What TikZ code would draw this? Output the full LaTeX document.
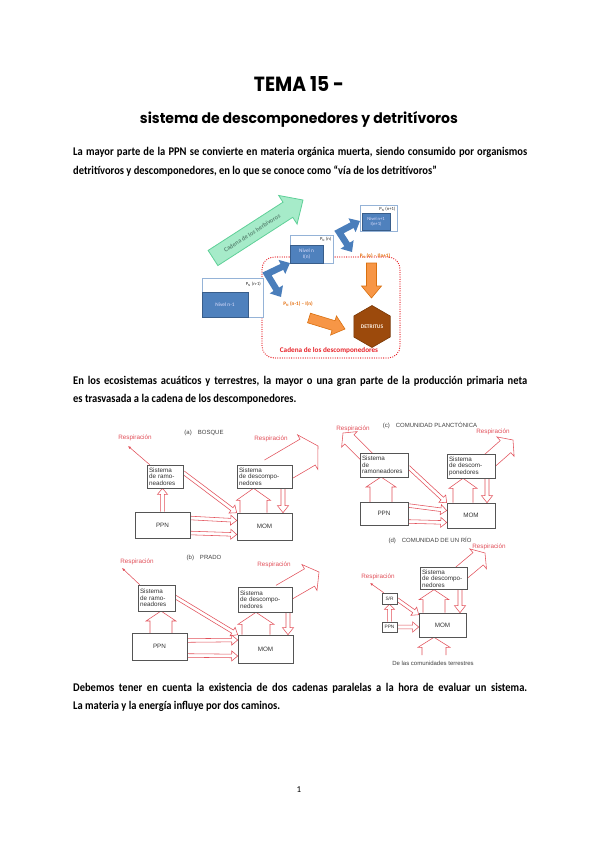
\documentclass[tikz,border=0pt]{standalone}
\usepackage{fontspec}
\usepackage{graphicx}
\setmainfont{Carlito}
\newfontfamily\titlefont{Poppins}
\newfontfamily\figfont{Liberation Sans}
\usetikzlibrary{calc,arrows.meta,backgrounds}
\definecolor{bluef}{HTML}{4F81BD}
\definecolor{blued}{HTML}{385D8A}
\definecolor{lightb}{HTML}{95B3D7}
\definecolor{bluea}{HTML}{4A7EBB}
\definecolor{greenf}{HTML}{A6EBC9}
\definecolor{greenb}{HTML}{5FD098}
\definecolor{greent}{HTML}{5E8C78}
\definecolor{orf}{HTML}{F79646}
\definecolor{orb}{HTML}{D9700F}
\definecolor{ort}{HTML}{E46C0A}
\definecolor{hexf}{HTML}{9C4A0C}
\definecolor{hexb}{HTML}{7A3806}
\definecolor{detred}{HTML}{E8232A}
\definecolor{rsp}{HTML}{E2505A}
\definecolor{boxg}{HTML}{555555}
\newcommand\openarr[6][]{%
  \coordinate (hb) at ($#3!#6!#2$);
  \draw[#1] ($#2!#4!90:#3$) -- ($(hb)!#4!90:#3$) -- ($(hb)!#5!90:#3$) -- #3 -- ($(hb)!#5!-90:#3$) -- ($(hb)!#4!-90:#3$) -- ($#2!#4!-90:#3$);}
\newcommand\fillarr[6][]{%
  \coordinate (hb) at ($#3!#6!#2$);
  \path[#1] ($#2!#4!90:#3$) -- ($(hb)!#4!90:#3$) -- ($(hb)!#5!90:#3$) -- #3 -- ($(hb)!#5!-90:#3$) -- ($(hb)!#4!-90:#3$) -- ($#2!#4!-90:#3$) -- cycle;}
\newcommand\bodyfs{\fontsize{10.5}{12}\selectfont\bfseries}
\newcommand\bline[1]{\scalebox{1}[1.12]{#1}}
\begin{document}
\begin{tikzpicture}[x=1pt,y=-1pt,
  fbx/.style={draw=boxg, fill=white, line width=0.6pt, inner sep=2pt, font=\figfont\fontsize{6.3}{6.6}\selectfont, align=left, text=black!80},
  fbc/.style={draw=boxg, fill=white, line width=0.6pt, inner sep=0pt, font=\figfont\fontsize{6.3}{6.6}\selectfont, text=black!80},
  rl/.style={font=\figfont\fontsize{6.3}{6.3}\selectfont, text=rsp, inner sep=0},
  ptl/.style={font=\figfont\fontsize{6}{6}\selectfont, text=black!75, inner sep=0},
  harr/.style={draw=rsp, line width=0.55pt, line join=miter},
  rthin/.style={draw=rsp, line width=0.55pt, -{Latex[length=3pt,width=2.6pt]}},
  bodyl/.style={anchor=base west, inner sep=0, font=\bodyfs},
  outb/.style={draw=lightb, fill=white, line width=0.8pt, inner sep=0},
  inb/.style={draw=blued, fill=bluef, line width=0.4pt, inner sep=0, text=white!88!blue, font=\fontsize{5.3}{5.8}\selectfont, align=center},
  pl/.style={font=\fontsize{4.6}{4.6}\selectfont, inner sep=0, text=black!85},
  ol/.style={font=\bfseries\fontsize{5.2}{5.2}\selectfont, text=ort, inner sep=0},
  barr/.style={draw=bluea, line width=6.5pt, line join=miter, arrows={Triangle[width=15pt,length=9pt]-Triangle[width=15pt,length=9pt]}}
]
\useasboundingbox (0,0) rectangle (599,848);
\begin{scope}[on background layer]
\fill[white] (0,0) rectangle (599,848);
\end{scope}

% ---------- titles and text ----------
\node (t1) at (299,84) {\resizebox{90pt}{15pt}{\titlefont\bfseries TEMA 15 -}};
\node (t2) at (299,119) {\resizebox{318pt}{12pt}{\titlefont\bfseries sistema de descomponedores y detritívoros}};

\node[bodyl] (p1a) at (73,155) {\bline{\makebox[454pt][s]{La mayor parte de la PPN se convierte en materia orgánica muerta, siendo consumido por organismos}}};
\node[bodyl] (p1b) at (73,174) {\bline{detritívoros y descomponedores, en lo que se conoce como “vía de los detritívoros”}};
\node[bodyl] (p2a) at (73,384) {\bline{\makebox[454pt][s]{En los ecosistemas acuáticos y terrestres, la mayor o una gran parte de la producción primaria neta}}};
\node[bodyl] (p2b) at (73,402) {\bline{es trasvasada a la cadena de los descomponedores.}};
\node[bodyl] (p3a) at (73,691) {\bline{\makebox[454pt][s]{Debemos tener en cuenta la existencia de dos cadenas paralelas a la hora de evaluar un sistema.}}};
\node[bodyl] (p3b) at (73,709) {\bline{La materia y la energía influye por dos caminos.}};
\node[font=\fontsize{9}{9}\selectfont, inner sep=0] (pg) at (299,790) {1};

% ---------- diagram 1 ----------
\node[draw=detred, line width=1.3pt, dash pattern=on 0pt off 2.3pt, line cap=round, rounded corners=12pt, minimum width=138pt, minimum height=101pt, inner sep=0] (dcad) at (331,307.5) {};

\coordinate (gT) at (213,258); \coordinate (gP) at (303,200);
\fillarr[draw=greenb, fill=greenf, line width=0.8pt]{(gT)}{(gP)}{9pt}{17pt}{18pt}
\node[rotate=32.8, font=\bfseries\fontsize{6.3}{6.3}\selectfont, text=greent, inner sep=0] (gtx) at (252,233) {Cadena de los herbívoros};

\node[outb, minimum width=61pt, minimum height=39pt] (o1) at (232.5,297.5) {};
\node[inb, minimum width=46pt, minimum height=25pt] (i1) at (225,304.5) {Nivel n-1};
\node[pl, anchor=east] (l1) at (261,284) {P\textsubscript{N} (n-1)};

\node[outb, minimum width=43pt, minimum height=28pt] (o2) at (311.5,249) {};
\node[inb, minimum width=33pt, minimum height=18pt] (i2) at (306.5,254) {Nivel n\\I(n)};
\node[pl, anchor=east] (l2) at (331.5,239.5) {P\textsubscript{N} (n)};

\node[outb, minimum width=37pt, minimum height=26pt] (o3) at (378.5,218) {};
\node[inb, minimum width=28pt, minimum height=17pt, font=\fontsize{4.6}{5.4}\selectfont] (i3) at (376,221.5) {Nivel n+1\\I(n+1)};
\node[pl, anchor=east] (l3) at (395.5,209) {P\textsubscript{N} (n+1)};

\coordinate (b1a) at (290,263); \coordinate (b1c) at (267,274); \coordinate (b1b) at (281,297);
\draw[barr] (b1a) -- (b1c) -- (b1b);
\coordinate (b2a) at (360,221); \coordinate (b2c) at (339,232); \coordinate (b2b) at (352,252);
\draw[barr] (b2a) -- (b2c) -- (b2b);

\node[ol] (ol1) at (375,256) {P\textsubscript{N} (n) – I(n+1)};
\node[ol] (ol2) at (298,304) {P\textsubscript{N} (n-1) – I(n)};

\coordinate (or1T) at (371.5,263); \coordinate (or1P) at (371.5,298);
\fillarr[draw=orb, fill=orf, line width=0.6pt]{(or1T)}{(or1P)}{5pt}{10pt}{12pt}
\coordinate (or2T) at (309,318); \coordinate (or2P) at (345,329);
\fillarr[draw=orb, fill=orf, line width=0.6pt]{(or2T)}{(or2P)}{5pt}{10pt}{12pt}

\coordinate (hx) at (372,326.5);
\filldraw[fill=hexf, draw=hexb, line width=0.6pt] ($(hx)+(0,-21)$) -- ($(hx)+(18.2,-10.5)$) -- ($(hx)+(18.2,10.5)$) -- ($(hx)+(0,21)$) -- ($(hx)+(-18.2,10.5)$) -- ($(hx)+(-18.2,-10.5)$) -- cycle;
\node[font=\bfseries\fontsize{5.5}{5.5}\selectfont, text=white!90!orange, inner sep=0] (det) at (hx) {DETRITUS};

\node[font=\bfseries\fontsize{7.2}{7.2}\selectfont, text=detred, inner sep=0] (cd) at (329,351) {Cadena de los descomponedores};

% ---------- figure 2 : panel (a) ----------
\node[ptl] (tA) at (204,433) {(a)\quad BOSQUE};
\node[rl] (rA1) at (135,438) {Respiración};
\node[rl] (rA2) at (271,439) {Respiración};
\node[fbx, text width=32pt, minimum height=23pt] (ramoA) at (165,476.5) {Sistema\\de ramo-\\neadores};
\node[fbx, text width=51pt, minimum height=23pt] (descA) at (264.5,476.5) {Sistema\\de descompo-\\nedores};
\node[fbc, minimum width=55pt, minimum height=26pt] (ppnA) at (162.5,525) {PPN};
\node[fbc, minimum width=55pt, minimum height=27pt] (momA) at (264.5,526.5) {MOM};
\begin{scope}[on background layer]
\coordinate (a0) at (128,446);
\draw[rthin] ($(ramoA.north west)+(3,0)$) -- (a0);
\coordinate (a1) at (ppnA.north |- ramoA.south);
\openarr[harr]{(ppnA.north)}{(a1)}{1.8pt}{5pt}{6pt}
\coordinate (a2) at ($(ramoA.east)+(0,-4)$);
\openarr[harr]{(a2)}{(momA.north west)}{1.8pt}{5pt}{6pt}
\coordinate (a3) at ($(ppnA.east)+(0,-7)$); \coordinate (a4) at ($(momA.west)+(0,-6)$);
\openarr[harr]{(a3)}{(a4)}{1.8pt}{5pt}{6pt}
\coordinate (a5) at ($(ppnA.east)+(0,8)$); \coordinate (a6) at ($(momA.west)+(0,8)$);
\openarr[harr]{(a5)}{(a6)}{1.8pt}{5pt}{6pt}
\coordinate (a7) at ($(momA.north)+(-11,0)$); \coordinate (a8) at ($(descA.south)+(-11,0)$);
\openarr[harr]{(a7)}{(a8)}{13.5pt}{17pt}{12pt}
\coordinate (a9) at ($(descA.south)+(18.5,0)$); \coordinate (a10) at ($(momA.north)+(18.5,0)$);
\openarr[harr]{(a9)}{(a10)}{2pt}{5.5pt}{7pt}
\coordinate (a11) at (272,473); \coordinate (a12) at (318,446);
\openarr[harr]{(a11)}{(a12)}{15pt}{20pt}{12pt}
\end{scope}

% ---------- panel (b) ----------
\node[ptl] (tB) at (204,558) {(b)\quad PRADO};
\node[rl] (rB1) at (137,562) {Respiración};
\node[rl] (rB2) at (274,565) {Respiración};
\node[fbx, text width=33pt, minimum height=26pt] (ramoB) at (156.5,598) {Sistema\\de ramo-\\neadores};
\node[fbx, text width=50pt, minimum height=25pt] (descB) at (265,599.5) {Sistema\\de descompo-\\nedores};
\node[fbc, minimum width=55pt, minimum height=27pt] (ppnB) at (159.5,646.5) {PPN};
\node[fbc, minimum width=55pt, minimum height=28pt] (momB) at (265.5,649) {MOM};
\begin{scope}[on background layer]
\coordinate (b0) at (122,568);
\draw[rthin] ($(ramoB.north west)+(2,0)$) -- (b0);
\coordinate (bb1) at (161,633); \coordinate (bb2) at (161,611);
\openarr[harr]{(bb1)}{(bb2)}{11pt}{15pt}{10pt}
\coordinate (bb3) at ($(ramoB.east)+(0,-1)$);
\openarr[harr]{(bb3)}{(momB.north west)}{1.8pt}{5pt}{6pt}
\coordinate (bb4) at ($(ppnB.east)+(0,-6)$); \coordinate (bb5) at ($(momB.west)+(0,-9)$);
\openarr[harr]{(bb4)}{(bb5)}{1.8pt}{5pt}{6pt}
\coordinate (bb6) at ($(ppnB.east)+(0,9)$); \coordinate (bb7) at ($(momB.west)+(0,7)$);
\openarr[harr]{(bb6)}{(bb7)}{1.8pt}{5pt}{6pt}
\coordinate (bb8) at ($(momB.north)+(-9.5,0)$); \coordinate (bb9) at ($(descB.south)+(-9,0)$);
\openarr[harr]{(bb8)}{(bb9)}{14pt}{18pt}{12pt}
\coordinate (bb10) at ($(descB.south)+(23,0)$); \coordinate (bb11) at ($(momB.north)+(22.5,0)$);
\openarr[harr]{(bb10)}{(bb11)}{2pt}{5.5pt}{7pt}
\coordinate (bb12) at (281,594); \coordinate (bb13) at (319,572);
\openarr[harr]{(bb12)}{(bb13)}{10pt}{15pt}{11pt}
\end{scope}

% ---------- panel (c) ----------
\node[ptl] (tC) at (430,426) {(c)\quad COMUNIDAD PLANCTÓNICA};
\node[rl] (rC1) at (353,429) {Respiración};
\node[rl] (rC2) at (493,432) {Respiración};
\node[fbx, text width=44pt, minimum height=24pt] (ramoC) at (384,465) {Sistema\\de\\ramoneadores};
\node[fbx, text width=44pt, minimum height=24pt] (descC) at (471,466) {Sistema\\de descom-\\ponedores};
\node[fbc, minimum width=48pt, minimum height=23pt] (ppnC) at (384,513.5) {PPN};
\node[fbc, minimum width=48pt, minimum height=25pt] (momC) at (471,515.5) {MOM};
\begin{scope}[on background layer]
\coordinate (c0) at (369,459); \coordinate (c00) at (343,433);
\openarr[harr]{(c0)}{(c00)}{6.5pt}{11pt}{9pt}
\coordinate (c1) at (381,502); \coordinate (c2) at (381,477);
\openarr[harr]{(c1)}{(c2)}{11pt}{15pt}{10pt}
\coordinate (c3) at ($(ramoC.east)+(0,2)$);
\openarr[harr]{(c3)}{(momC.north west)}{1.8pt}{5pt}{6pt}
\coordinate (c4) at ($(ppnC.east)+(0,-8)$); \coordinate (c5) at ($(momC.west)+(0,-5)$);
\openarr[harr]{(c4)}{(c5)}{1.8pt}{5pt}{6pt}
\coordinate (c6) at ($(ppnC.east)+(0,8)$); \coordinate (c7) at ($(momC.west)+(0,7)$);
\openarr[harr]{(c6)}{(c7)}{1.8pt}{5pt}{6pt}
\coordinate (c8) at ($(momC.north)+(-8,0)$); \coordinate (c9) at ($(descC.south)+(-8,0)$);
\openarr[harr]{(c8)}{(c9)}{10pt}{14pt}{10pt}
\coordinate (c10) at ($(descC.south)+(16,0)$); \coordinate (c11) at ($(momC.north)+(16,0)$);
\openarr[harr]{(c10)}{(c11)}{2pt}{5.5pt}{7pt}
\coordinate (c12) at (487,463); \coordinate (c13) at (513,440);
\openarr[harr]{(c12)}{(c13)}{8pt}{13pt}{10pt}
\end{scope}

% ---------- panel (d) ----------
\node[ptl] (tD) at (430,541) {(d)\quad COMUNIDAD DE UN RÍO};
\node[rl] (rD1) at (378,577) {Respiración};
\node[rl] (rD2) at (489,547) {Respiración};
\node[fbx, text width=43pt, minimum height=21pt] (descD) at (443.5,578.5) {Sistema\\de descompo-\\nedores};
\node[fbc, minimum width=15pt, minimum height=11pt, font=\figfont\fontsize{4.8}{5}\selectfont] (srD) at (389.5,598.5) {S/R};
\node[fbc, minimum width=15pt, minimum height=10pt, font=\figfont\fontsize{4.8}{5}\selectfont] (ppnD) at (389.5,627) {PPN};
\node[fbc, minimum width=47pt, minimum height=24pt] (momD) at (442.5,625) {MOM};
\node[ptl] (tE) at (433,663) {De las comunidades terrestres};
\begin{scope}[on background layer]
\coordinate (d0) at (370,583);
\draw[rthin] ($(srD.north west)+(2,0)$) -- (d0);
\coordinate (d1) at (ppnD.north |- srD.south);
\openarr[harr]{(ppnD.north)}{(d1)}{1.8pt}{5pt}{5pt}
\coordinate (d2) at ($(srD.east)+(0,1)$); \coordinate (d3) at ($(momD.north west)+(0,2)$);
\openarr[harr]{(d2)}{(d3)}{1.8pt}{5pt}{6pt}
\coordinate (d4) at (momD.west |- ppnD.east);
\openarr[harr]{(ppnD.east)}{(d4)}{1.8pt}{5pt}{6pt}
\coordinate (d5) at ($(momD.north)+(-8.5,0)$); \coordinate (d6) at ($(descD.south)+(-9.5,0)$);
\openarr[harr]{(d5)}{(d6)}{11pt}{15pt}{10pt}
\coordinate (d7) at ($(descD.south)+(16.5,0)$); \coordinate (d8) at ($(momD.north)+(17.5,0)$);
\openarr[harr]{(d7)}{(d8)}{2pt}{5.5pt}{7pt}
\coordinate (d9) at (434,655); \coordinate (d10) at ($(momD.south)+(-8.5,0)$);
\openarr[harr]{(d9)}{(d10)}{12pt}{16pt}{10pt}
\coordinate (d11) at (460,574); \coordinate (d12) at (485,553);
\openarr[harr]{(d11)}{(d12)}{8pt}{13pt}{9pt}
\end{scope}
\end{tikzpicture}
\end{document}
